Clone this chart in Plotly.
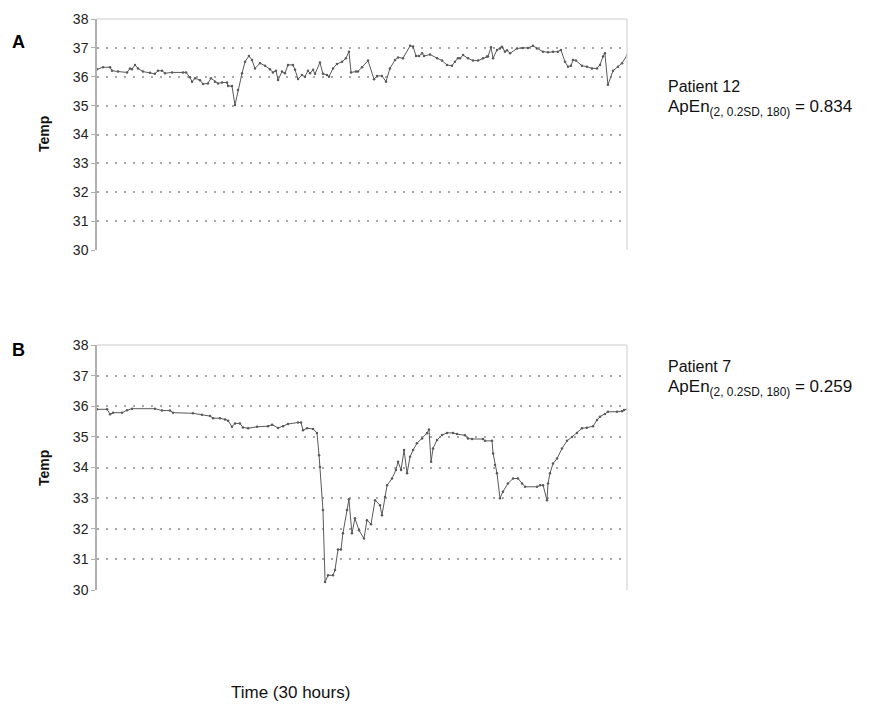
import plotly.graph_objects as go

# Panel A (Patient 12): time in hours, temperature
hours_a = [0.0, 0.34, 0.74, 0.85, 1.19, 1.70, 1.87, 1.98, 2.15, 2.32, 2.60, 3.00, 3.28, 3.45, 3.68, 3.85,
           4.25, 4.87, 5.04, 5.26, 5.38, 5.55, 5.83, 6.00, 6.28, 6.45, 6.68, 6.85, 7.08, 7.36, 7.42, 7.64,
           7.81, 7.98, 8.21, 8.38, 8.60, 8.77, 8.94, 9.23, 9.51, 9.79, 9.96, 10.13, 10.25, 10.47, 10.64,
           10.81, 11.09, 11.21, 11.38, 11.60, 11.77, 11.94, 12.06, 12.23, 12.34, 12.62, 12.79, 13.02, 13.13,
           13.36, 13.58, 13.87, 14.09, 14.26, 14.38, 14.66, 14.77, 15.00, 15.34, 15.68, 15.85, 16.13, 16.36,
           16.58, 16.87, 17.04, 17.32, 17.72, 17.89, 18.06, 18.23, 18.40, 18.51, 18.85, 19.25, 19.53, 19.81,
           20.09, 20.26, 20.43, 20.55, 20.72, 21.00, 21.28, 21.57, 21.85, 22.07, 22.13, 22.30, 22.42, 22.64,
           22.81, 22.92, 23.09, 23.21, 23.38, 23.77, 24.11, 24.39, 24.68, 24.90, 25.24, 25.53, 25.81, 26.09,
           26.26, 26.49, 26.66, 26.83, 26.94, 27.11, 27.45, 27.73, 28.02, 28.30, 28.47, 28.64, 28.75, 28.92,
           29.21, 29.49, 29.72, 30.0]
temp_a = [36.26, 36.33, 36.33, 36.21, 36.18, 36.15, 36.29, 36.26, 36.41, 36.29, 36.18, 36.14, 36.10, 36.21,
          36.21, 36.12, 36.15, 36.15, 36.15, 35.98, 35.83, 35.95, 35.88, 35.75, 35.77, 35.95, 35.83, 35.77,
          35.80, 35.80, 35.68, 35.68, 35.02, 35.54, 36.12, 36.52, 36.72, 36.58, 36.29, 36.47, 36.38, 36.26,
          36.15, 36.21, 35.89, 36.18, 36.12, 36.41, 36.41, 36.24, 35.92, 36.06, 36.00, 36.21, 36.12, 36.24,
          36.10, 36.49, 36.10, 36.06, 36.00, 36.29, 36.44, 36.52, 36.64, 36.87, 36.15, 36.18, 36.18, 36.33,
          36.56, 35.91, 36.03, 36.03, 35.83, 36.29, 36.58, 36.67, 36.64, 37.07, 37.05, 36.72, 36.72, 36.81,
          36.72, 36.77, 36.64, 36.56, 36.41, 36.38, 36.52, 36.64, 36.64, 36.75, 36.64, 36.56, 36.56, 36.64,
          36.70, 36.70, 37.02, 36.64, 36.93, 36.98, 37.04, 36.87, 36.92, 36.81, 36.98, 37.00, 37.00, 37.07,
          36.98, 36.87, 36.85, 36.87, 36.87, 36.93, 36.52, 36.35, 36.38, 36.58, 36.56, 36.38, 36.35, 36.29,
          36.29, 36.41, 36.70, 36.81, 35.72, 36.21, 36.35, 36.47, 36.75, 36.75]

# Panel B (Patient 7)
hours_b = [0.0, 0.57, 0.74, 0.91, 1.42, 1.70, 1.98, 3.28, 3.68, 4.13, 4.30, 5.43, 5.94, 6.40, 6.57, 6.96,
           7.25, 7.42, 7.64, 7.81, 8.09, 8.26, 8.55, 9.06, 9.68, 9.91, 10.25, 10.53, 10.81, 11.38, 11.55,
           11.66, 11.89, 12.23, 12.45, 12.57, 12.62, 12.79, 12.91, 13.08, 13.36, 13.47, 13.64, 13.81, 13.92,
           14.15, 14.26, 14.43, 14.60, 14.83, 15.11, 15.28, 15.51, 15.74, 16.02, 16.13, 16.30, 16.42, 16.70,
           16.92, 17.04, 17.21, 17.38, 17.55, 17.72, 17.89, 18.11, 18.40, 18.68, 18.79, 18.91, 19.02, 19.25,
           19.53, 19.81, 20.15, 20.38, 20.83, 21.00, 21.23, 21.85, 21.96, 22.36, 22.42, 22.53, 22.64, 22.81,
           22.98, 23.26, 23.55, 23.83, 24.06, 24.23, 24.91, 25.08, 25.25, 25.47, 25.53, 25.64, 25.81, 26.04,
           26.32, 26.60, 26.89, 27.17, 27.45, 27.73, 28.08, 28.30, 28.47, 28.75, 28.92, 29.43, 29.72, 29.83,
           30.0]
temp_b = [35.90, 35.90, 35.74, 35.79, 35.79, 35.87, 35.92, 35.92, 35.86, 35.86, 35.79, 35.77, 35.72, 35.68,
          35.61, 35.61, 35.57, 35.53, 35.33, 35.44, 35.44, 35.31, 35.28, 35.33, 35.35, 35.40, 35.29, 35.35,
          35.42, 35.47, 35.47, 35.22, 35.28, 35.26, 35.13, 34.40, 34.02, 32.61, 30.26, 30.48, 30.48, 30.65,
          31.32, 31.32, 31.85, 32.61, 32.96, 31.85, 32.34, 31.95, 31.68, 32.28, 32.15, 32.93, 32.77, 32.44,
          33.04, 33.42, 33.64, 33.92, 34.19, 33.92, 34.57, 33.81, 34.35, 34.57, 34.79, 34.95, 35.12, 35.24,
          34.19, 34.62, 34.90, 35.06, 35.13, 35.13, 35.09, 35.05, 34.95, 34.93, 34.93, 34.87, 34.87, 34.46,
          34.08, 33.81, 33.00, 33.21, 33.48, 33.64, 33.64, 33.48, 33.37, 33.37, 33.42, 33.42, 32.93, 33.48,
          33.81, 34.13, 34.29, 34.62, 34.87, 35.00, 35.13, 35.28, 35.30, 35.35, 35.55, 35.66, 35.75, 35.82,
          35.82, 35.84, 35.88, 35.90]

y_ticks = [30, 31, 32, 33, 34, 35, 36, 37, 38]
panel_labels = ["A", "B"]
patients = ["Patient 12", "Patient 7"]
apen_values = ["0.834", "0.259"]
y_title = "Temp"
x_title = "Time (30 hours)"

W, H = 875, 709
def px_x(p): return p / W
def px_y(p): return 1 - p / H

font = "Arial, Liberation Sans, Helvetica, sans-serif"

fig = go.Figure()
line_style = dict(color="#5a5a5a", width=1)
marker_style = dict(color="#5a5a5a", size=2.5)
fig.add_trace(go.Scatter(x=hours_a, y=temp_a, mode="lines+markers", line=line_style,
                         marker=marker_style, xaxis="x", yaxis="y", showlegend=False, hoverinfo="skip"))
fig.add_trace(go.Scatter(x=hours_b, y=temp_b, mode="lines+markers", line=line_style,
                         marker=marker_style, xaxis="x2", yaxis="y2", showlegend=False, hoverinfo="skip"))

xdom = [px_x(97), px_x(627)]
ydomA = [px_y(250), px_y(19)]
ydomB = [px_y(590), px_y(345)]

xcommon = dict(range=[0, 30], showticklabels=False, showgrid=False, zeroline=False,
               showline=False, ticks="", automargin=False)
ycommon = dict(range=[30, 38], tickvals=y_ticks, showgrid=True, gridcolor="#a8a8a8",
               griddash="2px,7px", gridwidth=1.5, zeroline=False, showline=True, linecolor="#b0b0b0",
               linewidth=1.5, mirror=False, ticks="outside", ticklen=4, tickcolor="#b0b0b0",
               tickfont=dict(family=font, size=14, color="#222"), automargin=False)

fig.update_layout(
    width=W, height=H, margin=dict(l=0, r=0, t=0, b=0, autoexpand=False),
    paper_bgcolor="white", plot_bgcolor="white",
    xaxis=dict(domain=xdom, anchor="y", **xcommon),
    yaxis=dict(domain=ydomA, anchor="x", **ycommon),
    xaxis2=dict(domain=xdom, anchor="y2", **xcommon),
    yaxis2=dict(domain=ydomB, anchor="x2", **ycommon),
)

# top and right borders (light)
for yd in (ydomA, ydomB):
    fig.add_shape(type="line", xref="paper", yref="paper", x0=xdom[0], x1=xdom[1], y0=yd[1], y1=yd[1],
                  line=dict(color="#dcdcdc", width=1.5), layer="above")
    fig.add_shape(type="line", xref="paper", yref="paper", x0=xdom[1], x1=xdom[1], y0=yd[0], y1=yd[1],
                  line=dict(color="#dcdcdc", width=1.5), layer="above")

fig.add_annotation(x=px_x(10), y=px_y(42), xref="paper", yref="paper", text="<b>%s</b>" % panel_labels[0],
                   showarrow=False, xanchor="left", yanchor="middle", font=dict(family=font, size=18, color="#000"))
fig.add_annotation(x=px_x(10), y=px_y(350), xref="paper", yref="paper", text="<b>%s</b>" % panel_labels[1],
                   showarrow=False, xanchor="left", yanchor="middle", font=dict(family=font, size=18, color="#000"))

for ymid in (134, 468):
    fig.add_annotation(x=px_x(44), y=px_y(ymid), xref="paper", yref="paper", text="<b>%s</b>" % y_title,
                       textangle=-90, showarrow=False, xanchor="center", yanchor="middle",
                       font=dict(family=font, size=14, color="#111"))

for i, (py1, py2) in enumerate([(86, 108), (366, 388)]):
    fig.add_annotation(x=px_x(666), y=px_y(py1), xref="paper", yref="paper", text=patients[i],
                       showarrow=False, xanchor="left", yanchor="middle", font=dict(family=font, size=16, color="#111"))
    fig.add_annotation(x=px_x(666), y=px_y(py2), xref="paper", yref="paper",
                       text="ApEn<sub>(2, 0.2SD, 180)</sub> = " + apen_values[i],
                       showarrow=False, xanchor="left", yanchor="middle", font=dict(family=font, size=17, color="#111"))

fig.add_annotation(x=px_x(290), y=px_y(692), xref="paper", yref="paper", text=x_title,
                   showarrow=False, xanchor="center", yanchor="middle", font=dict(family=font, size=17, color="#111"))

fig.write_html("out.html", config={"displayModeBar": False},
               post_script="document.body.style.margin='0';document.body.style.padding='0';")
